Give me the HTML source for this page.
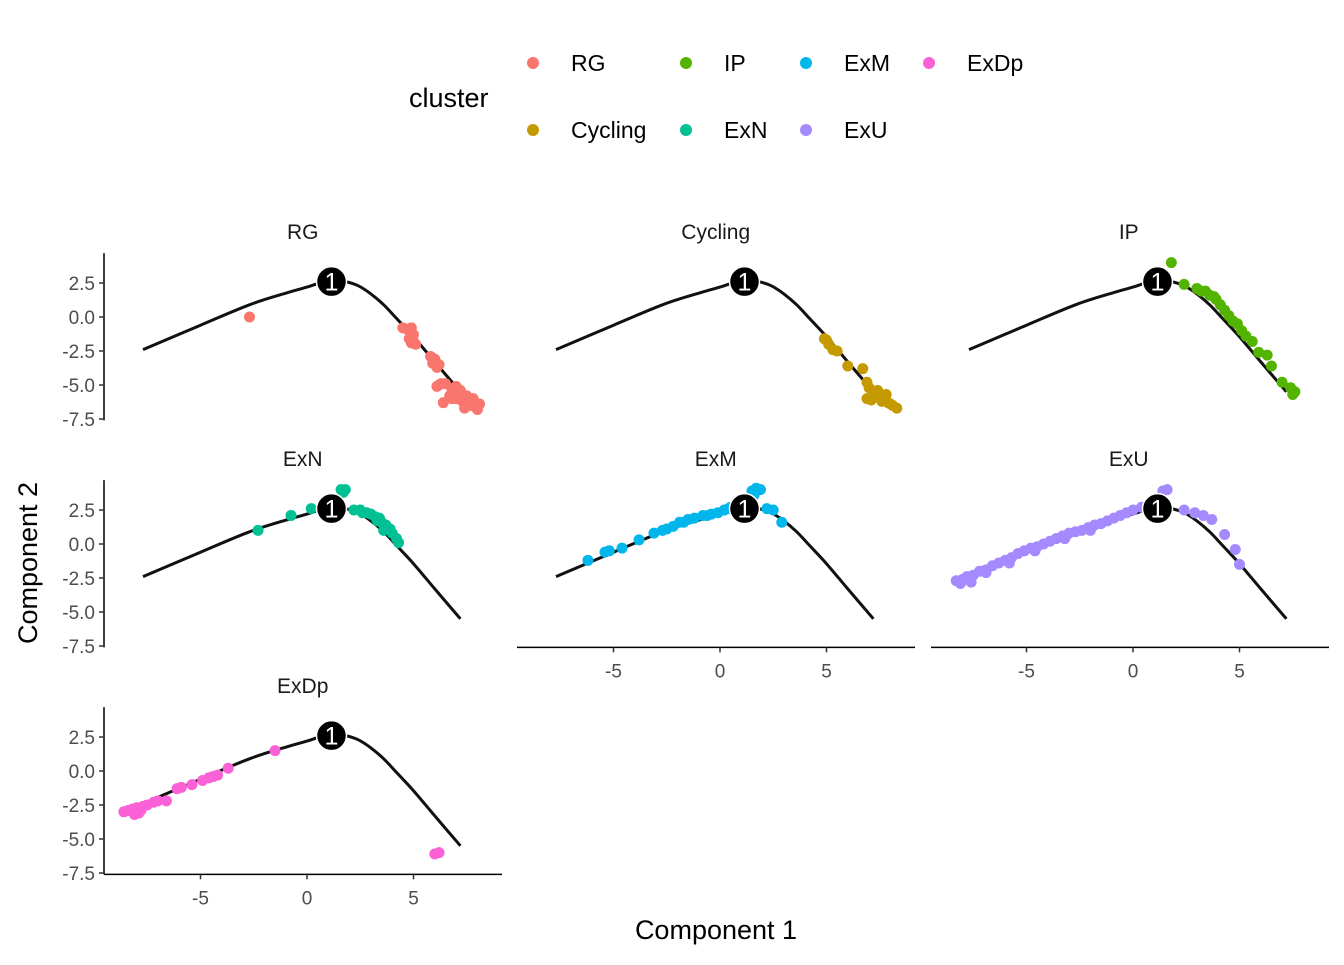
<!DOCTYPE html>
<html><head><meta charset="utf-8"><style>
body{margin:0;background:#fff;}
svg text{font-family:"Liberation Sans",sans-serif;}
</style></head><body>
<svg id="chart" width="1344" height="960" xmlns="http://www.w3.org/2000/svg">
<g id="legend">
<text x="409" y="107" font-size="27" fill="#000">cluster</text>
</g>
<g id="panels"></g>
<text x="716" y="939" font-size="27" text-anchor="middle" fill="#000">Component 1</text>
<text transform="translate(37,563) rotate(-90)" font-size="27" text-anchor="middle" fill="#000">Component 2</text>
</svg>
<script>
const clusters=["RG","Cycling","IP","ExN","ExM","ExU","ExDp"];
const colors=["#F8766D","#C49A00","#53B400","#00C094","#00B6EB","#A58AFF","#FB61D7"];
const curveX=[-7.7,-5,-2.7,-1,0,0.6,1.2,1.8,2.4,3,3.6,4.2,5,6,7.2];
const curveY=[-2.4,-0.6,0.9,1.75,2.2,2.5,2.65,2.6,2.3,1.7,0.9,-0.1,-1.45,-3.3,-5.5];
const nodeX=1.15, nodeY=2.6;
const xTicks=[-5,0,5];
const yTicks=[2.5,0.0,-2.5,-5.0,-7.5];
const RG_x=[-2.7,4.5,4.7,4.9,5.0,4.8,5.1,4.9,5.0,5.8,6.0,6.2,5.9,6.1,6.0,6.3,6.2,6.1,6.5,6.8,7.0,7.2,7.5,7.8,7.6,7.9,8.0,7.3,7.0,6.7,7.7,8.1,7.4,6.4,6.8];
const RG_y=[0.0,-0.8,-0.9,-0.8,-1.3,-1.6,-2.0,-1.9,-1.8,-2.9,-3.2,-3.5,-3.4,-3.7,-3.1,-4.9,-5.0,-5.1,-4.9,-5.3,-5.1,-5.4,-5.8,-6.0,-6.3,-6.6,-6.8,-6.2,-6.0,-5.8,-6.5,-6.4,-6.7,-6.3,-6.0];
const Cy_x=[4.9,5.1,5.0,5.3,5.5,6.0,6.7,6.9,7.0,7.2,7.4,7.5,7.7,7.9,8.1,8.3,7.6,7.8,7.1,6.9,8.0,7.3];
const Cy_y=[-1.6,-2.0,-1.7,-2.4,-2.5,-3.6,-3.8,-4.8,-5.2,-5.5,-5.4,-5.9,-6.0,-6.3,-6.5,-6.7,-6.2,-5.7,-6.1,-6.0,-6.4,-5.8];
const IP_x=[1.8,2.4,3.0,3.2,3.4,3.6,3.8,3.9,4.1,4.3,4.5,4.7,4.9,5.1,5.3,5.6,5.9,6.3,6.5,7.0,7.4,7.6,7.5];
const IP_y=[4.0,2.4,2.1,1.9,1.9,1.6,1.5,1.3,0.9,0.5,0.1,-0.3,-0.5,-1.0,-1.4,-1.8,-2.6,-2.8,-3.6,-4.8,-5.2,-5.5,-5.7];
const ExN_x=[-2.3,-0.75,0.2,1.6,1.8,1.7,2.2,2.5,2.8,3.0,3.2,3.4,3.5,3.7,3.6,3.9,4.0,4.2,4.3,3.3,2.6];
const ExN_y=[1.0,2.1,2.6,4.0,4.0,3.8,2.5,2.5,2.3,2.2,2.0,1.9,1.6,1.4,1.0,1.1,0.8,0.4,0.1,1.7,2.3];
const ExM_x=[-6.2,-5.4,-5.2,-4.6,-3.8,-3.1,-2.7,-2.2,-1.9,-1.5,-1.2,-0.8,-0.4,-0.1,0.2,0.5,0.8,1.1,1.5,1.7,1.9,1.6,2.2,2.5,2.9,-2.5,-1.7,-0.6,0.4,1.3];
const ExM_y=[-1.2,-0.6,-0.5,-0.3,0.3,0.8,1.0,1.3,1.6,1.8,1.9,2.1,2.2,2.3,2.5,2.7,2.9,3.2,3.9,4.1,4.0,3.6,2.6,2.5,1.6,1.1,1.6,2.1,2.6,2.9];
const ExU_x=[-8.3,-8.0,-7.8,-7.5,-7.2,-6.9,-6.6,-6.3,-6.0,-5.7,-5.4,-5.1,-4.8,-4.5,-4.2,-3.9,-3.6,-3.3,-3.0,-2.7,-2.4,-2.1,-1.8,-1.5,-1.2,-0.9,-0.6,-0.3,0.0,0.4,0.8,1.4,1.6,2.4,2.9,3.3,3.7,4.3,4.8,5.0,-8.1,-7.6,-5.8,-4.6,-3.2,-2.0,-6.9];
const ExU_y=[-2.7,-2.6,-2.4,-2.3,-2.0,-1.9,-1.6,-1.4,-1.2,-1.0,-0.7,-0.5,-0.3,-0.2,0.0,0.2,0.4,0.6,0.8,0.9,1.0,1.2,1.4,1.5,1.7,1.9,2.1,2.3,2.5,2.7,2.8,3.9,4.0,2.5,2.3,2.1,1.8,0.7,-0.4,-1.5,-2.9,-2.8,-1.4,-0.5,0.4,1.0,-2.1];
const ExDp_x=[-8.6,-8.4,-8.2,-8.0,-7.9,-7.7,-7.5,-7.2,-7.0,-6.6,-6.1,-5.9,-5.4,-4.9,-4.6,-4.4,-4.2,-3.7,-1.5,6.0,6.2,-8.1,-7.8];
const ExDp_y=[-3.0,-2.9,-2.8,-2.7,-3.1,-2.6,-2.5,-2.3,-2.2,-2.2,-1.3,-1.2,-1.0,-0.7,-0.5,-0.4,-0.3,0.2,1.5,-6.1,-6.0,-3.2,-2.9];
const ptsX=[RG_x,Cy_x,IP_x,ExN_x,ExM_x,ExU_x,ExDp_x];
const ptsY=[RG_y,Cy_y,IP_y,ExN_y,ExM_y,ExU_y,ExDp_y];

const NS="http://www.w3.org/2000/svg";
function mk(tag,attrs,parent){const e=document.createElementNS(NS,tag);for(const k in attrs)e.setAttribute(k,attrs[k]);parent.appendChild(e);return e;}
function smoothPath(P){
  let d='M'+P[0][0].toFixed(1)+','+P[0][1].toFixed(1);
  for(let i=0;i<P.length-1;i++){
    const p0=P[Math.max(0,i-1)],p1=P[i],p2=P[i+1],p3=P[Math.min(P.length-1,i+2)];
    const c1=[p1[0]+(p2[0]-p0[0])/6,p1[1]+(p2[1]-p0[1])/6];
    const c2=[p2[0]-(p3[0]-p1[0])/6,p2[1]-(p3[1]-p1[1])/6];
    d+=' C'+c1[0].toFixed(1)+','+c1[1].toFixed(1)+' '+c2[0].toFixed(1)+','+c2[1].toFixed(1)+' '+p2[0].toFixed(1)+','+p2[1].toFixed(1);
  }
  return d;
}
const legend=document.getElementById('legend');
const legPos=[[533,63],[533,130],[686,63],[686,130],[806,63],[806,130],[929,63]];
clusters.forEach((name,ci)=>{
  const g=mk('g',{},legend);
  
  
  const [lx,ly]=legPos[ci];
  mk('circle',{cx:lx,cy:ly,r:6,fill:colors[ci]},g);
  const t=mk('text',{x:lx+38,y:ly+8,'font-size':23,fill:'#000'},g);
  t.textContent=name;
});
const panels=document.getElementById('panels');
const colX0=[307,720,1133];
const colLeft=[104,517,931];
const rowY0=[317,544,771];
const sx=21.3, sy=13.6;
clusters.forEach((name,i)=>{
  const r=Math.floor(i/3), c=i%3;
  const X=v=>colX0[c]+v*sx, Y=v=>rowY0[r]-v*sy;
  const g=mk('g',{},panels);
  
  
  const st=mk('text',{x:X(-0.2),y:Y(5.5)-3,'font-size':21,'text-anchor':'middle',fill:'#1a1a1a'},g);
  
  
  st.textContent=name;
  if(c===0){
    mk('line',{x1:colLeft[c],x2:colLeft[c],y1:Y(4.7),y2:Y(-7.6),stroke:'#000','stroke-width':1.5},g);
    yTicks.forEach(t=>{
      mk('line',{x1:colLeft[c]-5,x2:colLeft[c],y1:Y(t),y2:Y(t),stroke:'#333','stroke-width':1.5},g);
      const tl=mk('text',{x:colLeft[c]-9,y:Y(t)+7,'font-size':19,'text-anchor':'end',fill:'#4d4d4d'},g);
      
      
      tl.textContent=t.toFixed(1);
    });
  }
  const showX=(r===2)||(r===1&&c>0);
  if(showX){
    mk('line',{x1:colLeft[c],x2:colLeft[c]+398,y1:Y(-7.6),y2:Y(-7.6),stroke:'#000','stroke-width':1.5},g);
    xTicks.forEach(t=>{
      mk('line',{x1:X(t),x2:X(t),y1:Y(-7.6),y2:Y(-7.6)+5,stroke:'#333','stroke-width':1.5},g);
      const tl=mk('text',{x:X(t),y:Y(-7.6)+30,'font-size':19,'text-anchor':'middle',fill:'#4d4d4d'},g);
      
      
      tl.textContent=t;
    });
  }
  const P=curveX.map((v,k)=>[X(v),Y(curveY[k])]);
  const p=mk('path',{d:smoothPath(P),fill:'none',stroke:'#111','stroke-width':3},g);
  
  
  ptsX[i].forEach((v,k)=>{
    const ci=mk('circle',{cx:X(v),cy:Y(ptsY[i][k]),r:5.5,fill:colors[i]},g);
    
    
  });
  const n=mk('circle',{cx:X(nodeX),cy:Y(nodeY),r:15,fill:'#000',stroke:'#fff','stroke-width':1.5},g);
  
  
  const nt=mk('text',{x:X(nodeX),y:Y(nodeY)+9,'font-size':25,'text-anchor':'middle',fill:'#fff'},g);
  nt.textContent='1';
});
</script>
</body></html>
